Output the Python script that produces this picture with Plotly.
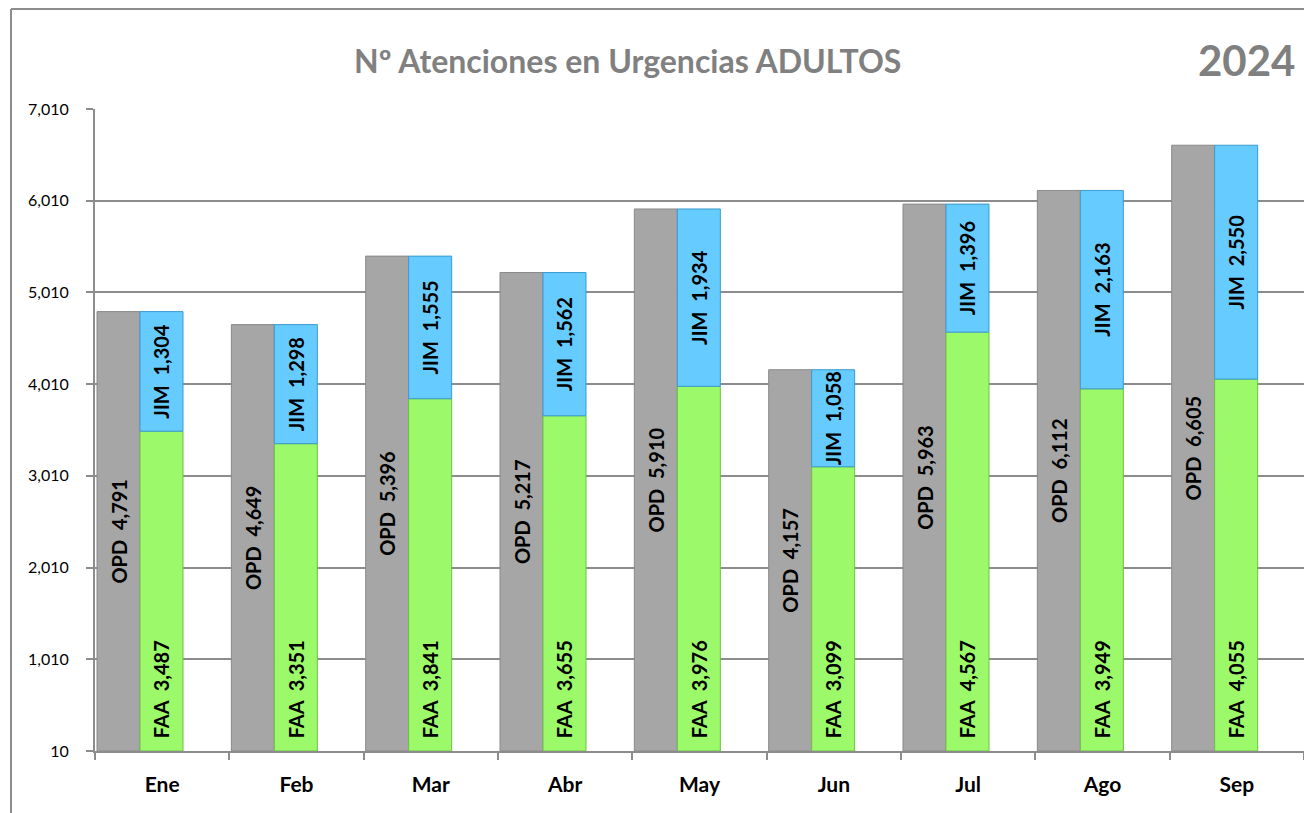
import plotly.graph_objects as go

months = ["Ene", "Feb", "Mar", "Abr", "May", "Jun", "Jul", "Ago", "Sep"]
opd = [4791, 4649, 5396, 5217, 5910, 4157, 5963, 6112, 6605]
faa = [3487, 3351, 3841, 3655, 3976, 3099, 4567, 3949, 4055]
jim = [1304, 1298, 1555, 1562, 1934, 1058, 1396, 2163, 2550]
y_ticks = [10, 1010, 2010, 3010, 4010, 5010, 6010, 7010]

FONT = "Lato"
W = 0.32
SP = "\u00a0\u00a0"
LBL = dict(family=FONT, size=20, color="black", weight="bold")

# page offset (body margin 8px) -> figure pixel coords
L, T, R, B = 87, 101, 16, 70
PW = 1312 - L - R
PH = 813 - T - B

fig = go.Figure()
fig.add_trace(go.Bar(
    x=months, y=opd, name="OPD", offset=-0.485, width=W, base=10,
    marker=dict(color="#A6A6A6", line=dict(color="#8A8A8A", width=1)),
    text=[f"OPD{SP}{v:,}" for v in opd], textposition="inside", textangle=-90,
    insidetextanchor="middle", textfont=LBL,
))
fig.add_trace(go.Bar(
    x=months, y=faa, name="FAA", offset=-0.165, width=W, base=10,
    marker=dict(color="#9CFA6A", line=dict(color="#6DBF45", width=1)),
    text=[f"{SP}FAA{SP}{v:,}" for v in faa], textposition="inside", textangle=-90,
    insidetextanchor="start", textfont=LBL,
))
fig.add_trace(go.Bar(
    x=months, y=jim, base=[f + 10 for f in faa], name="JIM", offset=-0.165, width=W,
    marker=dict(color="#66CCFF", line=dict(color="#3A9AD0", width=1)),
    text=[f"JIM{SP}{v:,}" for v in jim], textposition="inside", textangle=-90,
    insidetextanchor="middle", textfont=LBL,
))

fig.update_layout(
    width=1312, height=813,
    margin=dict(l=L, r=R, t=T, b=B),
    paper_bgcolor="white", plot_bgcolor="white",
    barmode="overlay", showlegend=False,
    uniformtext=dict(minsize=20, mode="show"),
    font=dict(family=FONT, color="black"),
)
fig.update_yaxes(
    range=[10, 7010], tickvals=y_ticks, tickformat=",",
    showgrid=True, gridcolor="#8C8C8C", gridwidth=2,
    showline=True, linecolor="#8C8C8C", linewidth=2,
    ticks="outside", ticklen=7, tickcolor="#8C8C8C", tickwidth=2,
    ticklabelstandoff=14,
    tickfont=dict(family=FONT, size=16, color="black"),
    zeroline=False,
)
fig.update_xaxes(
    showline=True, linecolor="#8C8C8C", linewidth=2,
    ticks="outside", tickson="boundaries", ticklen=7, tickcolor="#8C8C8C", tickwidth=2,
    ticklabelstandoff=14,
    tickfont=dict(family=FONT, size=21, color="black", weight="bold"),
    showgrid=False,
)


def px_x(p):
    return (p - 8 - L) / PW


def px_y(p):
    return (813 - B - (p - 8)) / PH


fig.add_annotation(text="Nº Atenciones en Urgencias ADULTOS", xref="paper", yref="paper",
                   x=px_x(627), y=px_y(60), xanchor="center", yanchor="middle",
                   showarrow=False, font=dict(family=FONT, size=32, color="#808080", weight="bold"))
fig.add_annotation(text="2024", xref="paper", yref="paper",
                   x=px_x(1297), y=px_y(60), xanchor="right", yanchor="middle",
                   showarrow=False, font=dict(family=FONT, size=42, color="#808080", weight="bold"))

# outer frame
fig.add_shape(type="line", xref="paper", yref="paper", x0=px_x(11), x1=px_x(1330),
              y0=px_y(9), y1=px_y(9), line=dict(color="#8C8C8C", width=2))
fig.add_shape(type="line", xref="paper", yref="paper", x0=px_x(11), x1=px_x(11),
              y0=px_y(9), y1=px_y(830), line=dict(color="#8C8C8C", width=2))

fig.write_html("out.html")
